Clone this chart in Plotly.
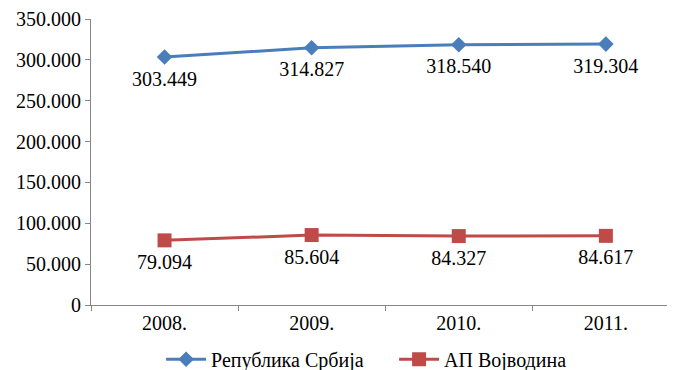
import plotly.graph_objects as go

years = ["2008.", "2009.", "2010.", "2011."]
srbija = [303449, 314827, 318540, 319304]
vojvodina = [79094, 85604, 84327, 84617]
y_ticks = [0, 50000, 100000, 150000, 200000, 250000, 300000, 350000]

FONT = "Liberation Serif, Times New Roman, serif"
FS = 20
BLUE = "#4A7EBB"
RED = "#BE4B48"

fig = go.Figure()
for name, vals, col, sym, sz in [
    ("Република Србија", srbija, BLUE, "diamond", 12),
    ("АП Војводина", vojvodina, RED, "square", 14),
]:
    fig.add_trace(go.Scatter(
        x=years, y=vals, name=name,
        mode="lines+markers",
        line=dict(color=col, width=3),
        marker=dict(symbol=sym, size=sz, color=col),
        hoverinfo="x+y",
    ))
    # data labels (invisible larger marker sets the label offset)
    fig.add_trace(go.Scatter(
        x=years, y=vals, mode="markers+text", showlegend=False,
        marker=dict(size=20, opacity=0),
        texttemplate="%{y:,d}", textposition="bottom center",
        textfont=dict(family=FONT, size=FS, color="#000000"),
        hoverinfo="skip",
    ))

# page body has an 8px margin, so the figure is sized/offset to compensate
fig.update_layout(
    width=667, height=362,
    margin=dict(l=83, r=0, t=11, b=65, autoexpand=False),
    paper_bgcolor="white", plot_bgcolor="white",
    separators=",.",
    font=dict(family=FONT, size=FS, color="#000000"),
    showlegend=True,
    legend=dict(orientation="h", x=0.12, xanchor="left", y=-0.258, yanchor="bottom",
                font=dict(family=FONT, size=FS), itemwidth=40, entrywidth=178,
                entrywidthmode="pixels", bgcolor="rgba(0,0,0,0)", borderwidth=0),
)
fig.update_xaxes(
    type="category", range=[-0.5, 3.47],
    showline=True, linecolor="#868686", linewidth=1,
    ticks="outside", tickson="boundaries", ticklen=5, tickcolor="#868686",
    showgrid=False, zeroline=False,
    tickfont=dict(family=FONT, size=FS),
)
fig.update_yaxes(
    range=[0, 350000], tickvals=y_ticks, tickformat=",d",
    showline=True, linecolor="#868686", linewidth=1,
    ticks="outside", ticklen=5, tickcolor="#868686",
    showgrid=False, zeroline=False,
    tickfont=dict(family=FONT, size=FS),
)

fig.write_html("out.html")
